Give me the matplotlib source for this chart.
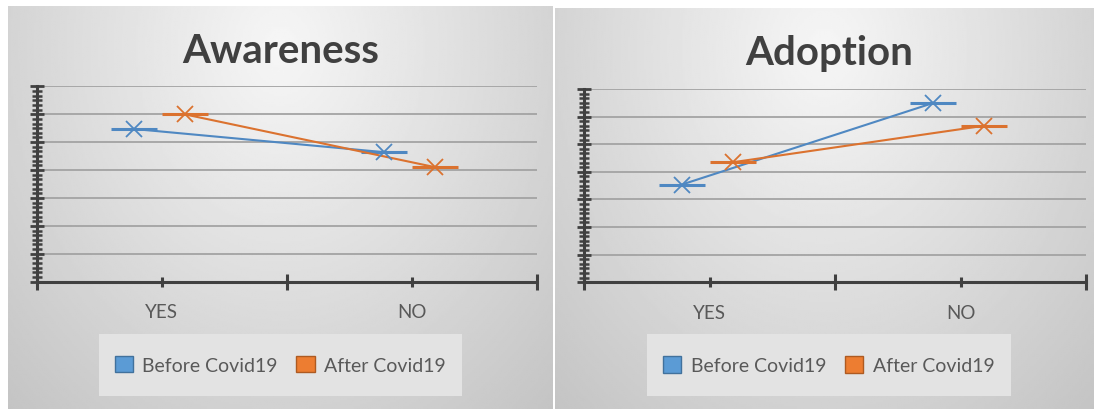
import numpy as np
import matplotlib.pyplot as plt
from matplotlib.patches import Patch, Rectangle
from matplotlib.ticker import MultipleLocator, AutoMinorLocator

# data (percent of answers)
categories = ['YES', 'NO']
series_names = ['Before Covid19', 'After Covid19']
awareness_before = [54.7, 46.4]
awareness_after = [59.9, 41.0]
adoption_before = [35.4, 64.9]
adoption_after = [43.5, 56.7]

BLUE = '#4f88c2'
ORANGE = '#db722f'
AXIS = '#404040'
TEXT = '#595959'

W, H = 1094, 410
plt.rcParams['font.family'] = ['Lato', 'DejaVu Sans']
fig = plt.figure(figsize=(W / 100, H / 100), dpi=100)


def rect_px(x0, y0, x1, y1):
    # pixel box (top-left origin) -> figure fraction rect
    return [x0 / W, 1 - y1 / H, (x1 - x0) / W, (y1 - y0) / H]


def background(box):
    bg = fig.add_axes(rect_px(*box), zorder=0)
    yy, xx = np.mgrid[0:1:200j, 0:1:300j]
    r = np.sqrt(((xx - 0.5) / 0.6) ** 2 + ((yy - 0.1) / 1.0) ** 2)
    img = np.clip(0.965 - 0.16 * r, 0, 1)
    bg.imshow(img, cmap='gray', vmin=0, vmax=1, aspect='auto', extent=(0, 1, 1, 0))
    bg.axis('off')


def panel(panel_box, axes_box, title, title_xy, before, after, legend_box):
    background(panel_box)
    ax = fig.add_axes(rect_px(*axes_box), zorder=1)
    ax.patch.set_alpha(0)

    x = np.arange(len(categories))
    for vals, off, color in [(before, -0.11, BLUE), (after, 0.095, ORANGE)]:
        ax.plot(x + off, vals, color=color, lw=1.5, marker='_', ms=33, mew=2.2, zorder=3)
        ax.plot(x + off, vals, ls='none', color=color, marker='x', ms=12, mew=1.3, zorder=4)

    ax.set_xlim(-0.5, 1.5)
    ax.set_ylim(0, 70)
    ax.yaxis.set_major_locator(MultipleLocator(10))
    ax.yaxis.set_minor_locator(AutoMinorLocator(6))
    ax.yaxis.grid(True, color='#a3a3a3', lw=1.3)
    ax.set_axisbelow(True)

    ax.set_xticks([-0.5, 0.5, 1.5])
    ax.set_xticklabels([])
    ax.set_xticks(x, labels=categories, minor=True)

    for s in ['top', 'right']:
        ax.spines[s].set_visible(False)
    for s in ['left', 'bottom']:
        ax.spines[s].set_color(AXIS)
        ax.spines[s].set_linewidth(2.2)

    ax.tick_params(axis='y', which='major', direction='inout', length=10, width=2, color=AXIS, labelleft=False)
    ax.tick_params(axis='y', which='minor', direction='inout', length=7, width=1.8, color=AXIS)
    ax.tick_params(axis='x', which='major', direction='inout', length=11, width=2.2, color=AXIS)
    ax.tick_params(axis='x', which='minor', direction='inout', length=7, width=2.2, color=AXIS,
                   labelsize=13.5, labelcolor=TEXT, pad=12)

    fig.text(title_xy[0] / W, 1 - title_xy[1] / H, title, ha='center', va='baseline',
             fontsize=29, fontweight='bold', color=AXIS)

    x0, y0, x1, y1 = legend_box
    fig.add_artist(Rectangle((x0 / W, 1 - y1 / H), (x1 - x0) / W, (y1 - y0) / H,
                             transform=fig.transFigure, facecolor='#e3e3e3', edgecolor='none', zorder=1))
    handles = [Patch(facecolor='#5b9bd5', edgecolor='#41719c'),
               Patch(facecolor='#ed7d31', edgecolor='#ae5a21')]
    fig.legend(handles, series_names, loc='center',
               bbox_to_anchor=((x0 + x1) / 2 / W, 1 - (y0 + y1) / 2 / H),
               ncol=2, frameon=False, fontsize=14, labelcolor=TEXT,
               handlelength=0.93, handleheight=0.93, handletextpad=0.5, columnspacing=0.95)


panel((8, 7, 553, 410), (36.7, 87.3, 536.7, 282.7), 'Awareness', (280.5, 62.7),
      awareness_before, awareness_after, (99, 335, 461.7, 396.7))
panel((555, 9, 1094, 410), (584, 90, 1086, 283.3), 'Adoption', (828.7, 65),
      adoption_before, adoption_after, (647.3, 335, 1010.7, 397.3))

fig.savefig('out.png', dpi=100)
